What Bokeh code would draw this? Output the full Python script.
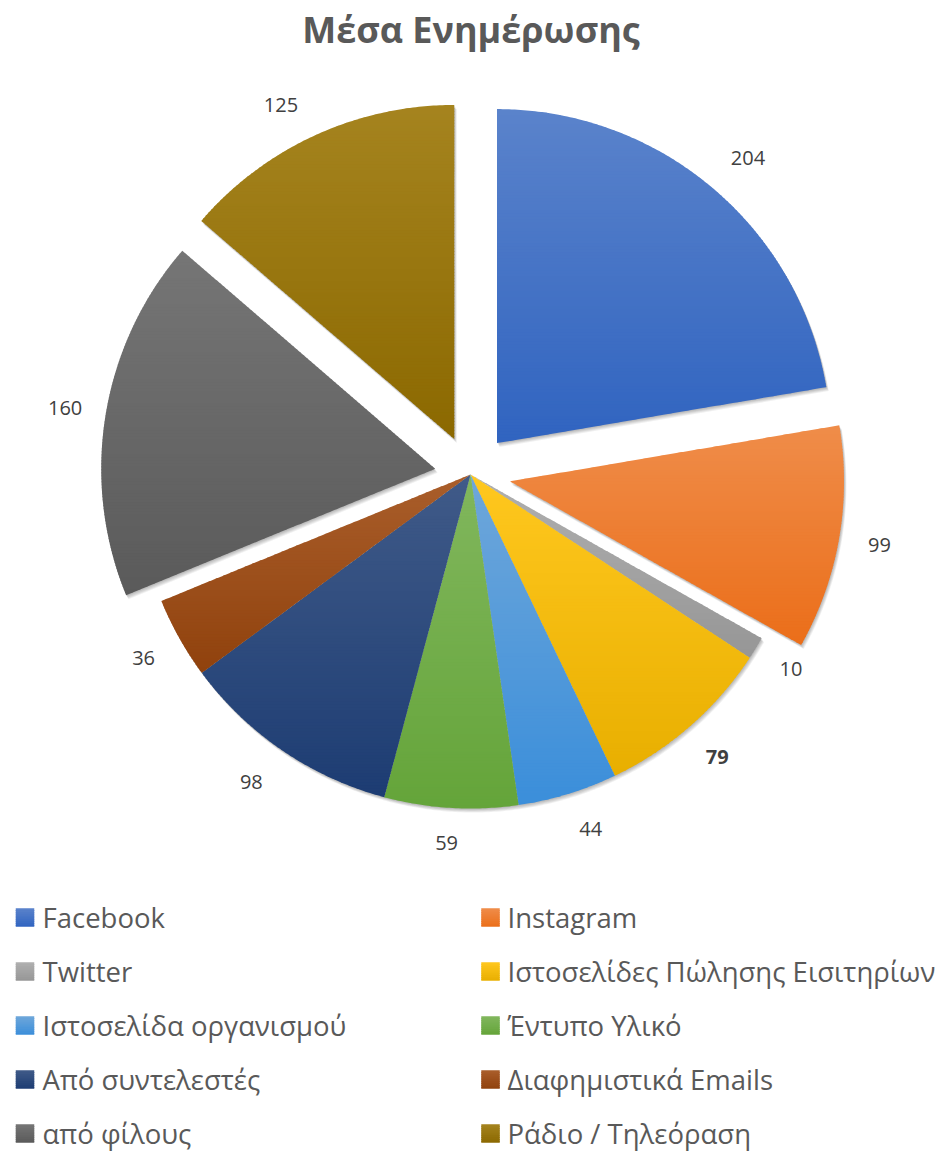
import math
import colorsys

import numpy as np
from bokeh.plotting import figure
from bokeh.models import Range1d
from bokeh.core.properties import value
from bokeh.embed import file_html
from bokeh.resources import INLINE

# ---------------------------------------------------------------- data
title = "Μέσα Ενημέρωσης"
categories = [
    "Facebook",
    "Instagram",
    "Twitter",
    "Ιστοσελίδες Πώλησης Εισιτηρίων",
    "Ιστοσελίδα οργανισμού",
    "Έντυπο Υλικό",
    "Από συντελεστές",
    "Διαφημιστικά Emails",
    "από φίλους",
    "Ράδιο / Τηλεόραση",
]
counts = [204, 99, 10, 79, 44, 59, 98, 36, 160, 125]
base_colors = [
    "#4472C4", "#ED7D31", "#A5A5A5", "#FFC000", "#5B9BD5",
    "#70AD47", "#264478", "#9E480E", "#636363", "#997300",
]
# pulled-out slices, as a fraction of the radius
explode = [0.123, 0.12, 0.0, 0.0, 0.0, 0.0, 0.0, 0.0, 0.107, 0.117]
# data label drawn in bold
bold_label_category = "Ιστοσελίδες Πώλησης Εισιτηρίων"

# ---------------------------------------------------------------- layout
W, H = 941, 1153
CX, CY, R = 470.0, 474.0, 334.0
LABEL_GAP = 41.0
FONT = "Open Sans"
TEXT_GREY = "#595959"
LABEL_GREY = "#404040"
# small hand placements of some data labels (pixels)
LABEL_NUDGE = {
    "Facebook": (9, 1),
    "Ιστοσελίδα οργανισμού": (11, -4),
    "Έντυπο Υλικό": (-2, -6),
    "Από συντελεστές": (-8, -2),
    "Ράδιο / Τηλεόραση": (-17, 7),
}


def hex_to_rgb(h):
    h = h.lstrip("#")
    return tuple(int(h[i:i + 2], 16) / 255.0 for i in (0, 2, 4))


def rgb_to_hex(c):
    return "#%02x%02x%02x" % tuple(int(round(max(0, min(1, v)) * 255)) for v in c)


def gradient_ends(hex_color):
    """Lighter tint for the top of a shape, deeper tone for the bottom."""
    rgb = hex_to_rgb(hex_color)
    top = tuple(v + (1.0 - v) * 0.12 for v in rgb)
    h, l, s = colorsys.rgb_to_hls(*rgb)
    s_b = min(s * 1.15, max(s, 0.82))
    bottom = colorsys.hls_to_rgb(h, l * 0.91, s_b)
    return top, bottom


def clip_band(xs, ys, y0, y1):
    """Clip a convex polygon to the horizontal band y0 <= y <= y1."""
    pts = list(zip(xs, ys))

    def clip(points, keep, cross):
        out = []
        n = len(points)
        for k in range(n):
            a = points[k]
            b = points[(k + 1) % n]
            ka, kb = keep(a), keep(b)
            if ka:
                out.append(a)
            if ka != kb:
                out.append(cross(a, b))
        return out

    def cross_at(yc):
        def f(a, b):
            t = (yc - a[1]) / (b[1] - a[1])
            return (a[0] + t * (b[0] - a[0]), yc)
        return f

    pts = clip(pts, lambda p: p[1] >= y0, cross_at(y0))
    if len(pts) < 3:
        return None
    pts = clip(pts, lambda p: p[1] <= y1, cross_at(y1))
    if len(pts) < 3:
        return None
    return [p[0] for p in pts], [p[1] for p in pts]


def gradient_bands(xs, ys, hex_color, step=3.0):
    top, bottom = gradient_ends(hex_color)
    ymin, ymax = min(ys), max(ys)
    n = max(2, int(math.ceil((ymax - ymin) / step)))
    bx, by, bc = [], [], []
    for k in range(n):
        y0 = ymin + (ymax - ymin) * k / n
        y1 = ymin + (ymax - ymin) * (k + 1) / n + 0.8
        piece = clip_band(xs, ys, y0, y1)
        if piece is None:
            continue
        t = (k + 0.5) / n
        col = tuple(top[j] + (bottom[j] - top[j]) * t for j in range(3))
        bx.append(piece[0])
        by.append(piece[1])
        bc.append(rgb_to_hex(col))
    return bx, by, bc


# ---------------------------------------------------------------- geometry
total = float(sum(counts))
edges = np.concatenate([[0.0], np.cumsum(counts)]) / total * 2 * math.pi

slice_xs, slice_ys, centres, mids = [], [], [], []
for i, v in enumerate(counts):
    a0, a1 = edges[i], edges[i + 1]
    mid = 0.5 * (a0 + a1)
    off = explode[i] * R
    ox = CX + off * math.sin(mid)
    oy = CY - off * math.cos(mid)
    n = max(8, int(math.degrees(a1 - a0) * 2))
    th = np.linspace(a0, a1, n)
    xs = [ox] + list(ox + R * np.sin(th))
    ys = [oy] + list(oy - R * np.cos(th))
    slice_xs.append(xs)
    slice_ys.append(ys)
    centres.append((ox, oy))
    mids.append(mid)

# ---------------------------------------------------------------- figure
p = figure(
    width=W, height=H,
    x_range=Range1d(0, W), y_range=Range1d(H, 0),
    output_backend="svg", toolbar_location=None,
    min_border=0, outline_line_color=None,
    background_fill_color="white", border_fill_color="white",
)
p.axis.visible = False
p.grid.visible = False

# soft drop shadow under every slice
for d in (1, 2, 3, 4, 5):
    p.patches(
        xs=[[x + 0.5 * d for x in xs] for xs in slice_xs],
        ys=[[y + 0.8 * d for y in ys] for ys in slice_ys],
        fill_color="black", fill_alpha=0.06, line_color=None,
    )

# slices with a top-to-bottom gradient
all_x, all_y, all_c = [], [], []
for i in range(len(counts)):
    bx, by, bc = gradient_bands(slice_xs[i], slice_ys[i], base_colors[i])
    all_x += bx
    all_y += by
    all_c += bc
p.patches(xs=all_x, ys=all_y, fill_color=all_c, line_color=None)

# data labels just outside each slice
lab_x, lab_y, lab_t, bold_x, bold_y, bold_t = [], [], [], [], [], []
for i, v in enumerate(counts):
    ox, oy = centres[i]
    rr = R + LABEL_GAP
    dx, dy = LABEL_NUDGE.get(categories[i], (0, 0))
    x = ox + rr * math.sin(mids[i]) + dx
    y = oy - rr * math.cos(mids[i]) + dy
    if categories[i] == bold_label_category:
        bold_x.append(x); bold_y.append(y); bold_t.append(str(v))
    else:
        lab_x.append(x); lab_y.append(y); lab_t.append(str(v))

label_style = dict(
    text_font=value(FONT), text_font_size="20px", text_color=LABEL_GREY,
    text_align="center", text_baseline="middle",
)
p.text(x=lab_x, y=lab_y, text=lab_t, **label_style)
p.text(x=bold_x, y=bold_y, text=bold_t, text_font_style="bold", **label_style)

# title
p.text(
    x=[W / 2], y=[29], text=[title],
    text_font=value(FONT), text_font_size="36px", text_font_style="bold",
    text_color=TEXT_GREY, text_align="center", text_baseline="middle",
)

# legend: two columns, five rows
COL_SWATCH_X = [24.5, 490.0]
COL_TEXT_X = [42.0, 507.0]
ROW_Y0, ROW_STEP = 917.0, 54.0
SW = 18.5
leg_x, leg_y, leg_c = [], [], []
txt_x, txt_y = [], []
for i, name in enumerate(categories):
    col, row = i % 2, i // 2
    sx, sy = COL_SWATCH_X[col], ROW_Y0 + ROW_STEP * row
    sq_x = [sx - SW / 2, sx + SW / 2, sx + SW / 2, sx - SW / 2]
    sq_y = [sy - SW / 2, sy - SW / 2, sy + SW / 2, sy + SW / 2]
    bx, by, bc = gradient_bands(sq_x, sq_y, base_colors[i], step=2.0)
    leg_x += bx
    leg_y += by
    leg_c += bc
    txt_x.append(COL_TEXT_X[col])
    txt_y.append(sy)
p.patches(xs=leg_x, ys=leg_y, fill_color=leg_c, line_color=None)
p.text(
    x=txt_x, y=txt_y, text=categories,
    text_font=value(FONT), text_font_size="27.5px", text_color=TEXT_GREY,
    text_align="left", text_baseline="middle",
)

open("out.html", "w").write(file_html(p, INLINE))
